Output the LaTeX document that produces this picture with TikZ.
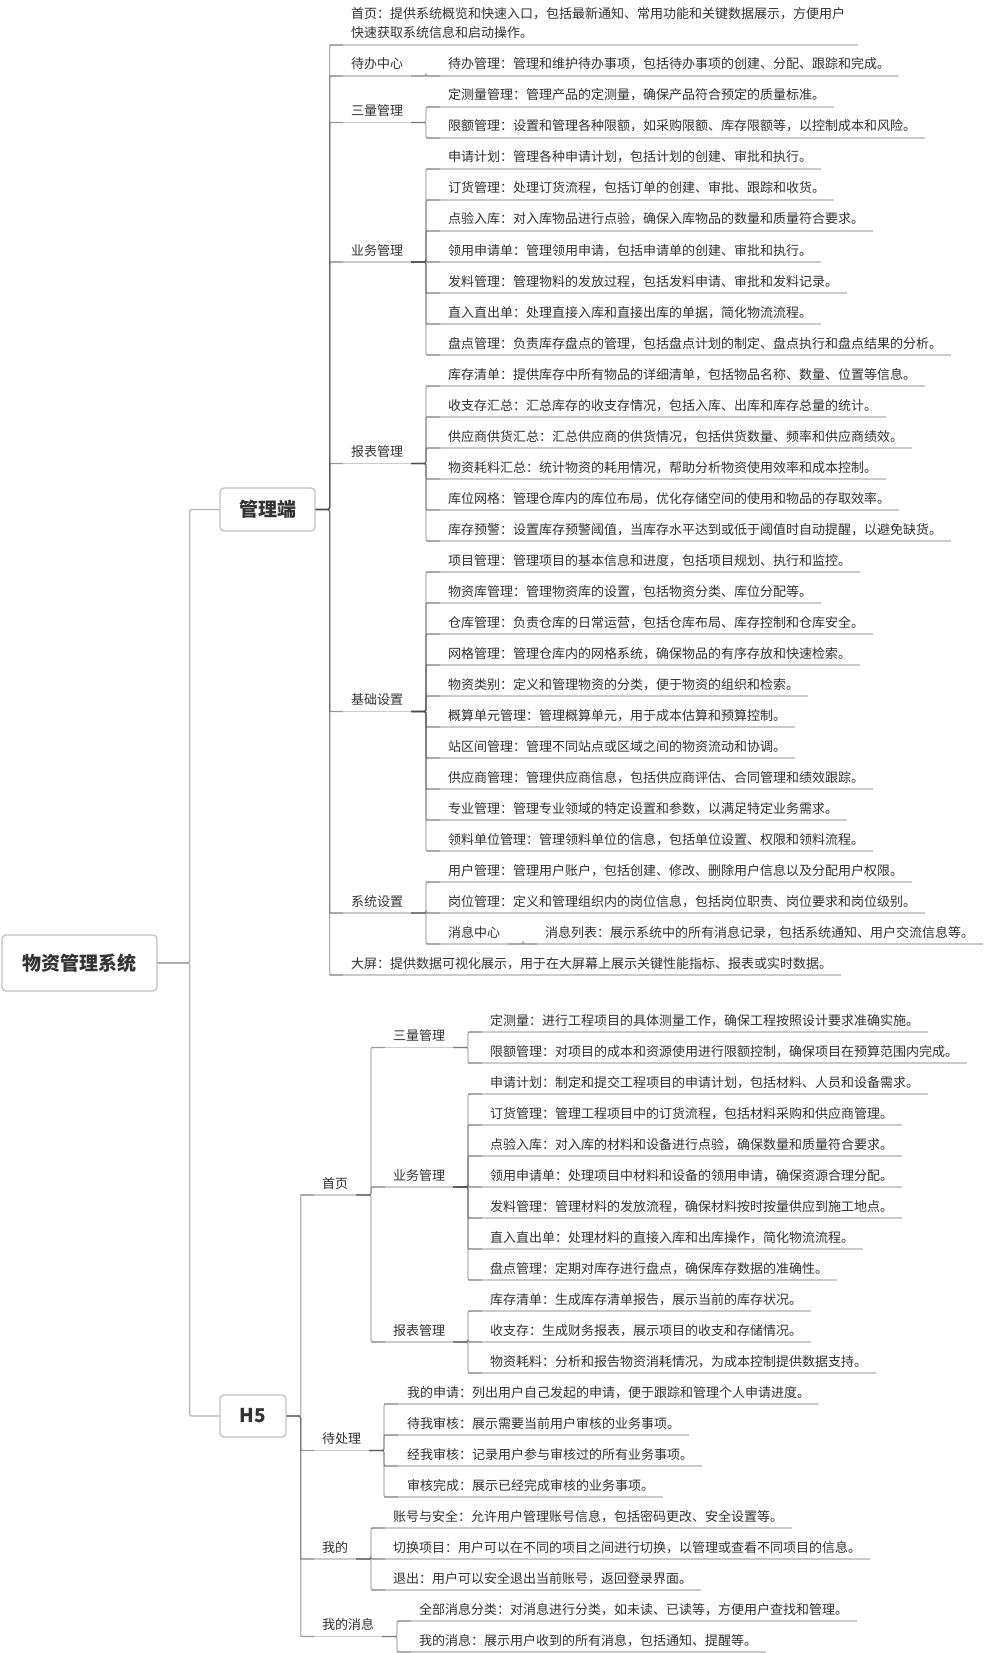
\documentclass[tikz,border=0pt]{standalone}
\usepackage{fontspec}
\newfontfamily\cjk{Noto Sans CJK SC}
\usetikzlibrary{calc}
\definecolor{txt}{HTML}{333333}
\definecolor{uln}{HTML}{CBCBCB}
\definecolor{cnc}{HTML}{4D4D4D}
\definecolor{bxb}{HTML}{C2C2C2}
\tikzset{
  lbl/.style={anchor=base west, inner sep=0pt, text=txt, font=\cjk\fontsize{13pt}{19pt}\selectfont},
  uline/.style={draw=uln, line width=1.3pt},
  conn/.style={draw=cnc, draw opacity=0.4, line width=1.3pt, rounded corners=2pt},
  topbox/.style={draw=bxb, line width=1.3pt, rounded corners=4pt, fill=white, text=txt,
    font=\cjk\bfseries\fontsize{19pt}{23pt}\selectfont, inner sep=0pt},
}
% leaf topic: name, text x, underline y, start x, text
\newcommand\mleaf[5]{%
  \node[lbl] (#1) at (#2,#3-7) {#5};
  \coordinate (#1s) at (#4,#3);
  \coordinate (#1e) at ($(#1.east |- #1s)+(9,0)$);
  \draw[uline] (#1s) -- (#1e);}
% inner topic: name, text x, underline y, start x, end x, text
\newcommand\mnode[6]{%
  \node[lbl] (#1) at (#2,#3-7) {#6};
  \coordinate (#1s) at (#4,#3);
  \coordinate (#1e) at (#5,#3);
  \draw[uline] (#1s) -- (#1e);}
\newcommand\mconn[2]{\draw[conn] ($(#1e)+(-15,0)$) -- (#1e) |- ($(#2s)+(14,0)$);}
\newcommand\bconn[2]{\draw[conn] (#1.east) -- ++(14,0) |- ($(#2s)+(14,0)$);}
\begin{document}
\begin{tikzpicture}[x=1pt,y=-1pt]
\useasboundingbox (0,0) rectangle (984,1653);
\fill[white] (0,0) rectangle (984,1653);

% boxes
\node[topbox, minimum width=155pt, minimum height=56pt] (root) at (79.5,963) {物资管理系统};
\node[topbox, minimum width=95pt, minimum height=43pt] (mgr) at (267.5,509.5) {管理端};
\node[topbox, minimum width=66pt, minimum height=42pt] (h5) at (253,1416) {H5};

% ---------- 管理端 ----------
\node[lbl] (a01) at (351,19) {\vtop{\baselineskip=19pt\hbox to 498pt{首页：提供系统概览和快速入口，包括最新通知、常用功能和关键数据展示，方便用户\hfil}\hbox{快速获取系统信息和启动操作。}}};
\coordinate (a01s) at (329,45);
\coordinate (a01e) at ($(a01.east |- a01s)+(9,0)$);
\draw[uline] (a01s) -- (a01e);

\mnode{a02}{351}{76}{329}{426}{待办中心}
\mleaf{b01}{448}{76}{426}{待办管理：管理和维护待办事项，包括待办事项的创建、分配、跟踪和完成。}

\mnode{a03}{351}{122.5}{329}{426}{三量管理}
\mleaf{b02}{448}{107}{426}{定测量管理：管理产品的定测量，确保产品符合预定的质量标准。}
\mleaf{b03}{448}{138}{426}{限额管理：设置和管理各种限额，如采购限额、库存限额等，以控制成本和风险。}

\mnode{a04}{351}{262}{329}{426}{业务管理}
\mleaf{b04}{448}{169}{426}{申请计划：管理各种申请计划，包括计划的创建、审批和执行。}
\mleaf{b05}{448}{200}{426}{订货管理：处理订货流程，包括订单的创建、审批、跟踪和收货。}
\mleaf{b06}{448}{231}{426}{点验入库：对入库物品进行点验，确保入库物品的数量和质量符合要求。}
\mleaf{b07}{448}{262}{426}{领用申请单：管理领用申请，包括申请单的创建、审批和执行。}
\mleaf{b08}{448}{293}{426}{发料管理：管理物料的发放过程，包括发料申请、审批和发料记录。}
\mleaf{b09}{448}{324}{426}{直入直出单：处理直接入库和直接出库的单据，简化物流流程。}
\mleaf{b10}{448}{355}{426}{盘点管理：负责库存盘点的管理，包括盘点计划的制定、盘点执行和盘点结果的分析。}

\mnode{a05}{351}{463.5}{329}{426}{报表管理}
\mleaf{b11}{448}{386}{426}{库存清单：提供库存中所有物品的详细清单，包括物品名称、数量、位置等信息。}
\mleaf{b12}{448}{417}{426}{收支存汇总：汇总库存的收支存情况，包括入库、出库和库存总量的统计。}
\mleaf{b13}{448}{448}{426}{供应商供货汇总：汇总供应商的供货情况，包括供货数量、频率和供应商绩效。}
\mleaf{b14}{448}{479}{426}{物资耗料汇总：统计物资的耗用情况，帮助分析物资使用效率和成本控制。}
\mleaf{b15}{448}{510}{426}{库位网格：管理仓库内的库位布局，优化存储空间的使用和物品的存取效率。}
\mleaf{b16}{448}{541}{426}{库存预警：设置库存预警阈值，当库存水平达到或低于阈值时自动提醒，以避免缺货。}

\mnode{a06}{351}{711.5}{329}{426}{基础设置}
\mleaf{b17}{448}{572}{426}{项目管理：管理项目的基本信息和进度，包括项目规划、执行和监控。}
\mleaf{b18}{448}{603}{426}{物资库管理：管理物资库的设置，包括物资分类、库位分配等。}
\mleaf{b19}{448}{634}{426}{仓库管理：负责仓库的日常运营，包括仓库布局、库存控制和仓库安全。}
\mleaf{b20}{448}{665}{426}{网格管理：管理仓库内的网格系统，确保物品的有序存放和快速检索。}
\mleaf{b21}{448}{696}{426}{物资类别：定义和管理物资的分类，便于物资的组织和检索。}
\mleaf{b22}{448}{727}{426}{概算单元管理：管理概算单元，用于成本估算和预算控制。}
\mleaf{b23}{448}{758}{426}{站区间管理：管理不同站点或区域之间的物资流动和协调。}
\mleaf{b24}{448}{789}{426}{供应商管理：管理供应商信息，包括供应商评估、合同管理和绩效跟踪。}
\mleaf{b25}{448}{820}{426}{专业管理：管理专业领域的特定设置和参数，以满足特定业务需求。}
\mleaf{b26}{448}{851}{426}{领料单位管理：管理领料单位的信息，包括单位设置、权限和领料流程。}

\mnode{a07}{351}{913}{329}{426}{系统设置}
\mleaf{b27}{448}{882}{426}{用户管理：管理用户账户，包括创建、修改、删除用户信息以及分配用户权限。}
\mleaf{b28}{448}{913}{426}{岗位管理：定义和管理组织内的岗位信息，包括岗位职责、岗位要求和岗位级别。}
\mnode{b29}{448}{944}{426}{523}{消息中心}
\mleaf{c01}{545}{944}{523}{消息列表：展示系统中的所有消息记录，包括系统通知、用户交流信息等。}

\mleaf{a08}{351}{975}{329}{大屏：提供数据可视化展示，用于在大屏幕上展示关键性能指标、报表或实时数据。}

% ---------- H5 ----------
\mnode{d01}{322}{1195}{300}{371}{首页}
\mnode{e01}{393}{1047.5}{371}{468}{三量管理}
\mleaf{f01}{490}{1032}{468}{定测量：进行工程项目的具体测量工作，确保工程按照设计要求准确实施。}
\mleaf{f02}{490}{1063}{468}{限额管理：对项目的成本和资源使用进行限额控制，确保项目在预算范围内完成。}
\mnode{e02}{393}{1187}{371}{468}{业务管理}
\mleaf{f03}{490}{1094}{468}{申请计划：制定和提交工程项目的申请计划，包括材料、人员和设备需求。}
\mleaf{f04}{490}{1125}{468}{订货管理：管理工程项目中的订货流程，包括材料采购和供应商管理。}
\mleaf{f05}{490}{1156}{468}{点验入库：对入库的材料和设备进行点验，确保数量和质量符合要求。}
\mleaf{f06}{490}{1187}{468}{领用申请单：处理项目中材料和设备的领用申请，确保资源合理分配。}
\mleaf{f07}{490}{1218}{468}{发料管理：管理材料的发放流程，确保材料按时按量供应到施工地点。}
\mleaf{f08}{490}{1249}{468}{直入直出单：处理材料的直接入库和出库操作，简化物流流程。}
\mleaf{f09}{490}{1280}{468}{盘点管理：定期对库存进行盘点，确保库存数据的准确性。}
\mnode{e03}{393}{1342}{371}{468}{报表管理}
\mleaf{f10}{490}{1311}{468}{库存清单：生成库存清单报告，展示当前的库存状况。}
\mleaf{f11}{490}{1342}{468}{收支存：生成财务报表，展示项目的收支和存储情况。}
\mleaf{f12}{490}{1373}{468}{物资耗料：分析和报告物资消耗情况，为成本控制提供数据支持。}

\mnode{d02}{322}{1450.5}{300}{384}{待处理}
\mleaf{g01}{407}{1404}{384}{我的申请：列出用户自己发起的申请，便于跟踪和管理个人申请进度。}
\mleaf{g02}{407}{1435}{384}{待我审核：展示需要当前用户审核的业务事项。}
\mleaf{g03}{407}{1466}{384}{经我审核：记录用户参与审核过的所有业务事项。}
\mleaf{g04}{407}{1497}{384}{审核完成：展示已经完成审核的业务事项。}

\mnode{d03}{322}{1559}{300}{371}{我的}
\mleaf{g05}{393}{1528}{371}{账号与安全：允许用户管理账号信息，包括密码更改、安全设置等。}
\mleaf{g06}{393}{1559}{371}{切换项目：用户可以在不同的项目之间进行切换，以管理或查看不同项目的信息。}
\mleaf{g07}{393}{1590}{371}{退出：用户可以安全退出当前账号，返回登录界面。}

\mnode{d04}{322}{1636.5}{300}{397}{我的消息}
\mleaf{g08}{419}{1621}{397}{全部消息分类：对消息进行分类，如未读、已读等，方便用户查找和管理。}
\mleaf{g09}{419}{1652}{397}{我的消息：展示用户收到的所有消息，包括通知、提醒等。}

% ---------- connectors ----------
\draw[conn] (root.east) -- ++(32,0) |- (mgr.west);
\draw[conn] (root.east) -- ++(32,0) |- (h5.west);
\foreach \c in {a01,a02,a03,a04,a05,a06,a07,a08} {\bconn{mgr}{\c}}
\mconn{a02}{b01}
\foreach \c in {b02,b03} {\mconn{a03}{\c}}
\foreach \c in {b04,b05,b06,b07,b08,b09,b10} {\mconn{a04}{\c}}
\foreach \c in {b11,b12,b13,b14,b15,b16} {\mconn{a05}{\c}}
\foreach \c in {b17,b18,b19,b20,b21,b22,b23,b24,b25,b26} {\mconn{a06}{\c}}
\foreach \c in {b27,b28,b29} {\mconn{a07}{\c}}
\mconn{b29}{c01}
\foreach \c in {d01,d02,d03,d04} {\bconn{h5}{\c}}
\foreach \c in {e01,e02,e03} {\mconn{d01}{\c}}
\foreach \c in {f01,f02} {\mconn{e01}{\c}}
\foreach \c in {f03,f04,f05,f06,f07,f08,f09} {\mconn{e02}{\c}}
\foreach \c in {f10,f11,f12} {\mconn{e03}{\c}}
\foreach \c in {g01,g02,g03,g04} {\mconn{d02}{\c}}
\foreach \c in {g05,g06,g07} {\mconn{d03}{\c}}
\foreach \c in {g08,g09} {\mconn{d04}{\c}}
\end{tikzpicture}
\end{document}
